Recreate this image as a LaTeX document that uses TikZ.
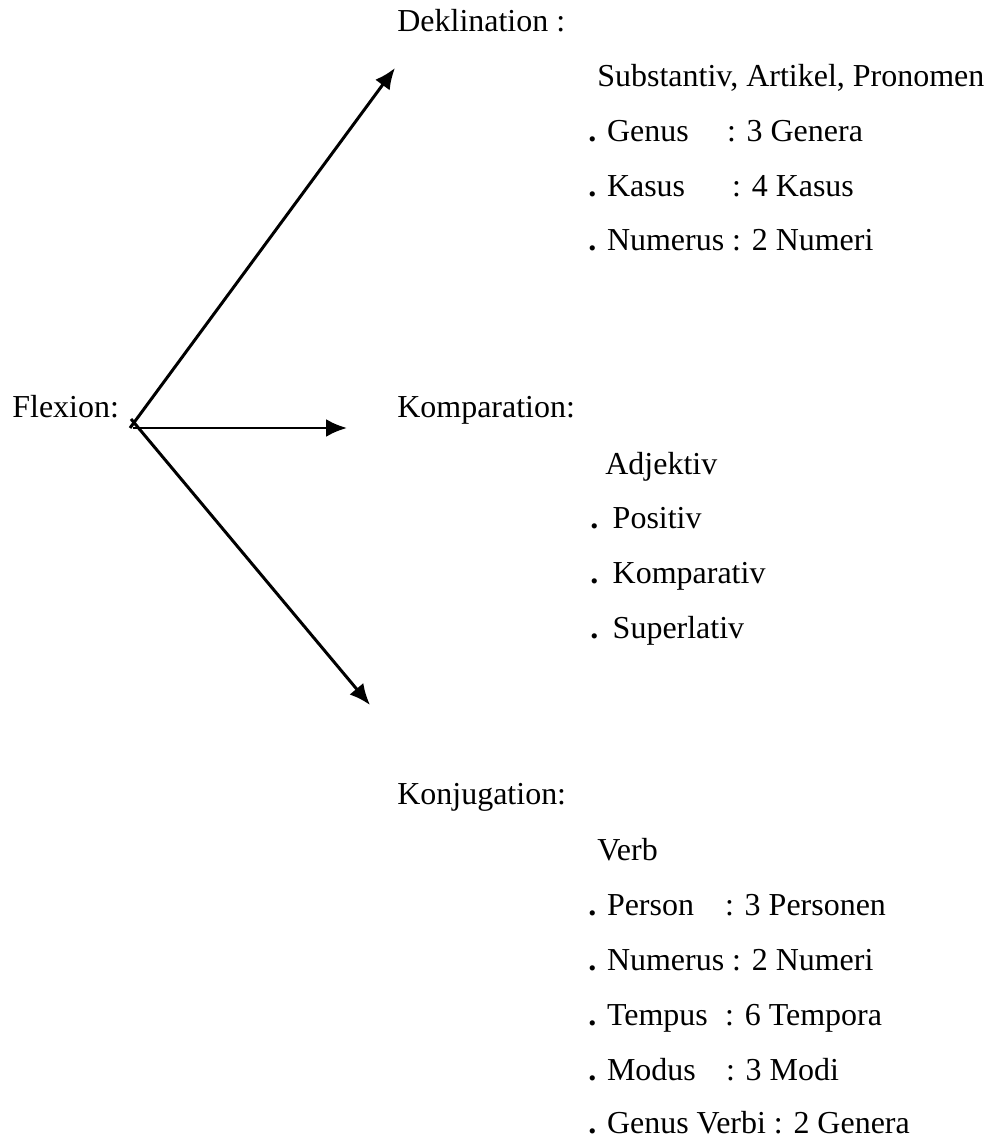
\documentclass[tikz,border=0pt]{standalone}
\usepackage{fontspec}
\setmainfont{Liberation Serif}
\usetikzlibrary{arrows.meta}
\newcommand{\pkt}{\textbf{.}}
\begin{document}
\begin{tikzpicture}[x=0.02cm, y=-0.02cm,
    txt/.style={anchor=base west, inner sep=0pt, font=\fontsize{18.2pt}{22pt}\selectfont},
    arr/.style={line width=1.7pt, -{Latex[length=0.42cm, width=0.36cm]}}]
    \useasboundingbox (0,0) rectangle (990,1141);

    % Left label and branching point
    \node[txt] (flexion) at (12,418) {Flexion:};
    \coordinate (o) at (133,427);
    \coordinate (dtip) at (395,68);
    \coordinate (ktip) at (347,428);
    \coordinate (jtip) at (370,705);

    % Arrows
    \draw[arr] ([shift={(-3,1)}]o) -- (dtip);
    \draw[arr] ([shift={(0,1)}]o) -- (ktip);
    \draw[arr] ([shift={(-2,-8)}]o) -- (jtip);

    % Deklination
    \node[txt] (dekl) at (397,32) {Deklination :};
    \node[txt] (dekl0) at (597,87) {Substantiv, Artikel, Pronomen};
    \node[txt] (dekl1) at (588,142) {\makebox[4.34em][l]{\pkt{} Genus}: 3 Genera};
    \node[txt] (dekl2) at (588,197) {\makebox[4.5em][l]{\pkt{} Kasus}: 4 Kasus};
    \node[txt] (dekl3) at (588,251) {\pkt{} Numerus : 2 Numeri};

    % Komparation
    \node[txt] (komp) at (397,418) {Komparation:};
    \node[txt] (komp0) at (605,474) {Adjektiv};
    \node[txt] (komp1) at (590,528) {\pkt\hspace{0.45em}Positiv};
    \node[txt] (komp2) at (590,583) {\pkt\hspace{0.45em}Komparativ};
    \node[txt] (komp3) at (590,638) {\pkt\hspace{0.45em}Superlativ};

    % Konjugation
    \node[txt] (konj) at (397,804) {Konjugation:};
    \node[txt] (konj0) at (597,860) {Verb};
    \node[txt] (konj1) at (588,915) {\makebox[4.28em][l]{\pkt{} Person}: 3 Personen};
    \node[txt] (konj2) at (588,970) {\pkt{} Numerus : 2 Numeri};
    \node[txt] (konj3) at (588,1025) {\makebox[4.28em][l]{\pkt{} Tempus}: 6 Tempora};
    \node[txt] (konj4) at (588,1080) {\makebox[4.31em][l]{\pkt{} Modus}: 3 Modi};
    \node[txt] (konj5) at (588,1133) {\pkt{} Genus Verbi : 2 Genera};
\end{tikzpicture}
\end{document}
